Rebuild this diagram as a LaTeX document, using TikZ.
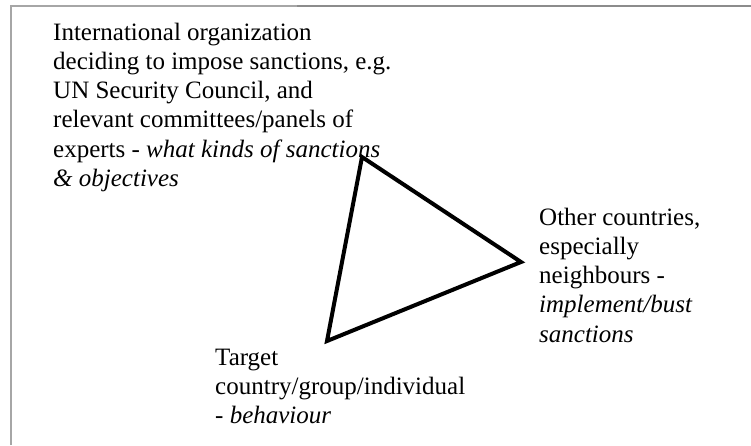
\documentclass[tikz,border=0pt]{standalone}
\usepackage{fontspec}
\setmainfont{Liberation Serif}
\usepackage{tikz}
\usetikzlibrary{positioning,calc}

\begin{document}
\begin{tikzpicture}[
    x=1pt, y=-1pt,
    lbl/.style={anchor=north west, inner sep=0pt, align=left, font=\fontsize{25}{29.2}\selectfont},
    edge/.style={line width=4pt, draw=black, line join=miter},
    frame/.style={line width=2pt, draw=black!35}
]
    \useasboundingbox (0,0) rectangle (751,445);
    \draw [frame] (11,445) -- (11,6) -- (751,6);
    \draw [line width=2pt, draw=black!45] (297,6) -- (751,6);

    \node [lbl] (org) at (53,19.6) {\strut International organization\\deciding to impose sanctions, e.g.\\UN Security Council, and\\relevant committees/panels of\\experts - \textit{what kinds of sanctions}\\\textit{\& objectives}};
    \node [lbl] (oth) at (539,204.6) {\strut Other countries,\\especially\\neighbours -\\\textit{implement/bust}\\\textit{sanctions}};
    \node [lbl] (tgt) at (215,344.6) {\strut Target\\country/group/individual\\- \textit{behaviour}};

    \coordinate (a) at (362,157);
    \coordinate (b) at (521,262);
    \coordinate (c) at (327,341);
    \draw [edge] (a) -- (b) -- (c) -- cycle;
\end{tikzpicture}
\end{document}
